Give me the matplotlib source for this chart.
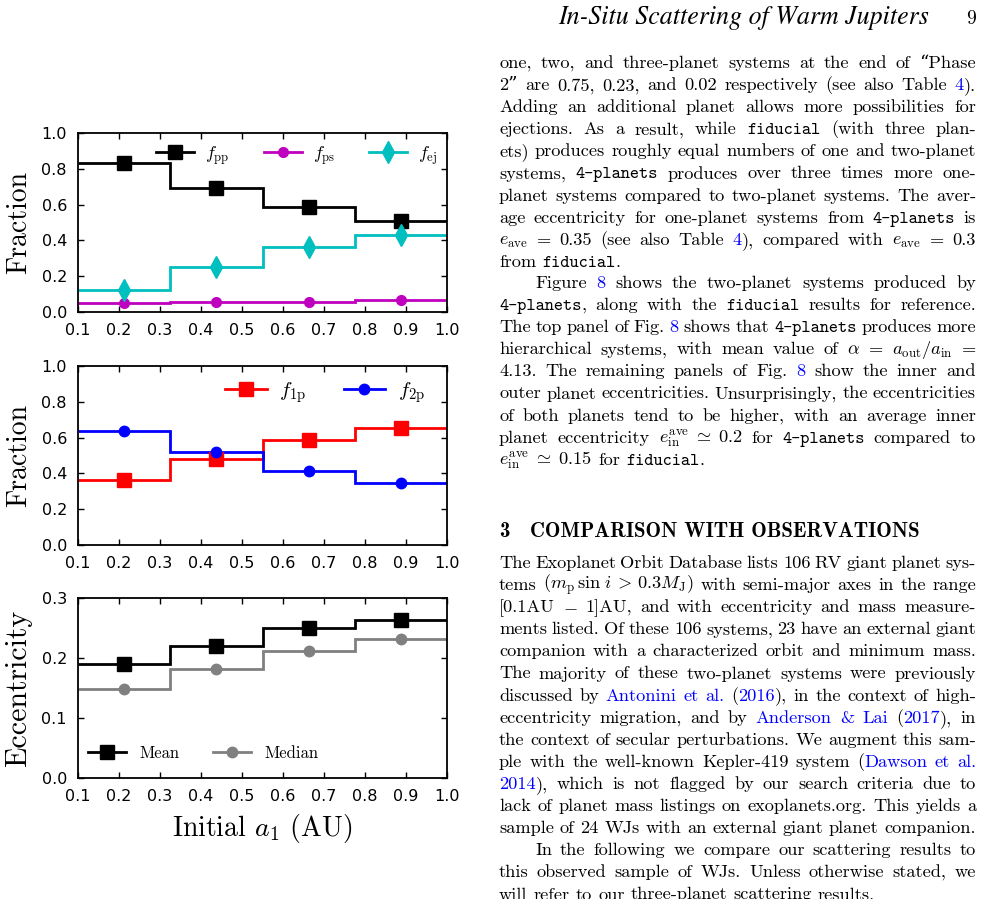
import re
import numpy as np
import matplotlib
matplotlib.use('Agg')
import matplotlib.pyplot as plt
from matplotlib.lines import Line2D
from matplotlib.transforms import IdentityTransform

plt.rcParams['mathtext.fontset'] = 'cm'
plt.rcParams['font.family'] = 'DejaVu Sans'

# ---- data ----
a_edges = [0.1, 0.325, 0.55, 0.775, 1.0]
a_mid = [0.2125, 0.4375, 0.6625, 0.8875]
f_pp = [0.832, 0.693, 0.587, 0.507]
f_ps = [0.050, 0.058, 0.057, 0.067]
f_ej = [0.125, 0.251, 0.363, 0.432]
f_1p = [0.362, 0.480, 0.586, 0.652]
f_2p = [0.639, 0.519, 0.414, 0.344]
e_mean = [0.190, 0.220, 0.250, 0.263]
e_median = [0.148, 0.182, 0.211, 0.231]

x_ticks = [0.1, 0.2, 0.3, 0.4, 0.5, 0.6, 0.7, 0.8, 0.9, 1.0]
frac_ticks = [0.0, 0.2, 0.4, 0.6, 0.8, 1.0]
ecc_ticks = [0.0, 0.1, 0.2, 0.3]

# page text beside the figure
header = "In-Situ Scattering of Warm Jupiters"
page_no = "9"
para_a = [
    "one, two, and three-planet systems at the end of “Phase",
    "2” are 0.75, 0.23, and 0.02 respectively (see also Table #4#).",
    "Adding an additional planet allows more possibilities for",
    "ejections. As a result, while @fiducial@ (with three plan-",
    "ets) produces roughly equal numbers of one and two-planet",
    "systems, @4-planets@ produces over three times more one-",
    "planet systems compared to two-planet systems. The aver-",
    "age eccentricity for one-planet systems from @4-planets@ is",
    r"$e_{\rm ave}$ = 0.35 (see also Table #4#), compared with $e_{\rm ave}$ = 0.3",
    "from @fiducial@.",
]
para_b = [
    "Figure #8# shows the two-planet systems produced by",
    "@4-planets@, along with the @fiducial@ results for reference.",
    "The top panel of Fig. #8# shows that @4-planets@ produces more",
    r"hierarchical systems, with mean value of $\alpha$ = $a_{\rm out}/a_{\rm in}$ =",
    "4.13. The remaining panels of Fig. #8# show the inner and",
    "outer planet eccentricities. Unsurprisingly, the eccentricities",
    "of both planets tend to be higher, with an average inner",
    r"planet eccentricity $e_{\rm in}^{\rm ave}\;\simeq\;0.2$ for @4-planets@ compared to",
    r"$e_{\rm in}^{\rm ave}\;\simeq\;0.15$ for @fiducial@.",
]
section_no = "3"
section_title = "COMPARISON WITH OBSERVATIONS"
para_c = [
    "The Exoplanet Orbit Database lists 106 RV giant planet sys-",
    r"tems $(m_{\rm p}\,\sin\,i\,>\,0.3M_{\rm J})$ with semi-major axes in the range",
    "[0.1AU $-$ 1]AU, and with eccentricity and mass measure-",
    "ments listed. Of these 106 systems, 23 have an external giant",
    "companion with a characterized orbit and minimum mass.",
    "The majority of these two-planet systems were previously",
    "discussed by #Antonini# #et# #al.# (#2016#), in the context of high-",
    "eccentricity migration, and by #Anderson# #&# #Lai# (#2017#), in",
    "the context of secular perturbations. We augment this sam-",
    "ple with the well-known Kepler-419 system (#Dawson# #et# #al.#",
    "#2014#), which is not flagged by our search criteria due to",
    "lack of planet mass listings on exoplanets.org. This yields a",
    "sample of 24 WJs with an external giant planet companion.",
]
para_d = [
    "In the following we compare our scattering results to",
    "this observed sample of WJs. Unless otherwise stated, we",
    "will refer to our three-planet scattering results.",
]

W, H = 983, 899
fig = plt.figure(figsize=(W / 100, H / 100), dpi=100)
renderer = fig.canvas.get_renderer()
PIX = IdentityTransform()


def fig_rect(left, top, right, bottom):
    return [left / W, 1 - bottom / H, (right - left) / W, (bottom - top) / H]


def style_axes(ax, yticks, ylim):
    ax.set_xlim(0.1, 1.0)
    ax.set_ylim(*ylim)
    ax.set_xticks(x_ticks)
    ax.set_yticks(yticks)
    ax.tick_params(direction='in', top=True, right=True, length=4.5, width=1,
                   labelsize=11.5, pad=8)
    for s in ax.spines.values():
        s.set_linewidth(1.3)


def series(ax, vals, color, marker, ms):
    ax.stairs(vals, a_edges, baseline=None, color=color, lw=2)
    ax.plot(a_mid, vals, ls='none', marker=marker, ms=ms, color=color, mec=color)
    return Line2D([], [], color=color, lw=2, marker=marker, ms=ms, mec=color)


cm_font = ['cmr10', 'DejaVu Serif']

# top panel
ax1 = fig.add_axes(fig_rect(78, 133, 447, 312))
h1 = [series(ax1, f_pp, 'k', 's', 9.5),
      series(ax1, f_ps, (0.75, 0, 0.75), 'o', 7),
      series(ax1, f_ej, (0, 0.75, 0.75), 'd', 11)]
style_axes(ax1, frac_ticks, (0, 1))
ax1.legend(h1, [r'$f_{\rm pp}$', r'$f_{\rm ps}$', r'$f_{\rm ej}$'], ncol=3,
           frameon=False, loc='center', bbox_to_anchor=(0.593, 0.877),
           fontsize=13, handlelength=2.1, handletextpad=0.6, columnspacing=1.9,
           numpoints=1)
ax1.set_ylabel('Fraction', family=cm_font, fontsize=20)
ax1.yaxis.set_label_coords(-0.125, 0.5)

# middle panel
ax2 = fig.add_axes(fig_rect(78, 366, 447, 545))
h2 = [series(ax2, f_1p, (1, 0, 0), 's', 9.5),
      series(ax2, f_2p, (0, 0, 1), 'o', 7.5)]
style_axes(ax2, frac_ticks, (0, 1))
ax2.legend(h2, [r'$f_{\rm 1p}$', r'$f_{\rm 2p}$'], ncol=2,
           frameon=False, loc='center', bbox_to_anchor=(0.669, 0.852),
           fontsize=15, handlelength=2.0, handletextpad=0.6, columnspacing=1.8,
           numpoints=1)
ax2.set_ylabel('Fraction', family=cm_font, fontsize=20)
ax2.yaxis.set_label_coords(-0.125, 0.5)

# bottom panel
ax3 = fig.add_axes(fig_rect(78, 598, 447, 778))
h3 = [series(ax3, e_mean, 'k', 's', 9.5),
      series(ax3, e_median, '0.5', 'o', 7.5)]
style_axes(ax3, ecc_ticks, (0, 0.3))
ax3.legend(h3, ['Mean', 'Median'], ncol=2, frameon=False, loc='center',
           bbox_to_anchor=(0.340, 0.138), prop={'family': cm_font, 'size': 12},
           handlelength=2.3, handletextpad=0.8, columnspacing=2.0, numpoints=1)
ax3.set_ylabel('Eccentricity', family=cm_font, fontsize=21.5)
ax3.yaxis.set_label_coords(-0.125, 0.5)
ax3.set_xlabel(r'Initial $a_1$ (AU)', family=cm_font, fontsize=20, labelpad=6)

# ---- page text ----
FS = 13.2
FS_TT = 12.6
STY = {
    'r': dict(family=cm_font, color='black', fontsize=FS),
    't': dict(family=['cmtt10', 'DejaVu Sans Mono'], color='black', fontsize=FS_TT),
    'b': dict(family=cm_font, color='blue', fontsize=FS),
}
word_re = re.compile(r'(?:\$[^$]*\$|\S)+')
piece_re = re.compile(r'\$[^$]*\$|@[^@]*@|#[^#]*#|[^$@#]+')
X0, X1 = 499, 976
LS = 22.1


def put_line(line, base, x0, justify):
    words = []
    for w in word_re.findall(line):
        pieces = []
        for p in piece_re.findall(w):
            if p.startswith('@'):
                st, s = 't', p[1:-1]
            elif p.startswith('#'):
                st, s = 'b', p[1:-1]
            else:
                st, s = 'r', p
            t = fig.text(0, 0, s, transform=PIX, va='baseline', ha='left', **STY[st])
            pieces.append((t, t.get_window_extent(renderer).width))
        words.append(pieces)
    widths = [sum(p[1] for p in ps) for ps in words]
    if justify and len(words) > 1:
        gap = (X1 - x0 - sum(widths)) / (len(words) - 1)
    else:
        gap = FS * 100 / 72 * 0.333
    x = x0
    for ps in words:
        for t, w in ps:
            t.set_position((x, H - base))
            x += w
        x += gap


def put_para(lines, base, indent=0, last_full=False):
    for i, line in enumerate(lines):
        last = i == len(lines) - 1
        put_line(line, base + i * LS, X0 + (indent if i == 0 else 0),
                 justify=(not last) or last_full)
    return base + len(lines) * LS


def fit_text(s, x0, x1, base, **kw):
    t = fig.text(x0, H - base, s, transform=PIX, fontsize=10, va='baseline',
                 ha='left', **kw)
    w = t.get_window_extent(renderer).width
    t.set_fontsize(10 * (x1 - x0) / w)
    return t


fit_text(header, 558, 929, 24, family='STIXGeneral', style='italic')
fig.text(976, H - 24, page_no, transform=PIX, fontsize=14, va='baseline',
         ha='right', family=cm_font)

put_para(para_a, 68)
put_para(para_b, 288, indent=36)
title = fit_text(section_title, 530, 918, 537, family=['cmb10', 'DejaVu Serif'])
fig.text(499, H - 537, section_no, transform=PIX, va='baseline', ha='left',
         fontsize=title.get_fontsize(), family=['cmb10', 'DejaVu Serif'])
y = put_para(para_c, 568, last_full=True)
put_para(para_d, y, indent=36)

fig.savefig('out.png', dpi=100)
